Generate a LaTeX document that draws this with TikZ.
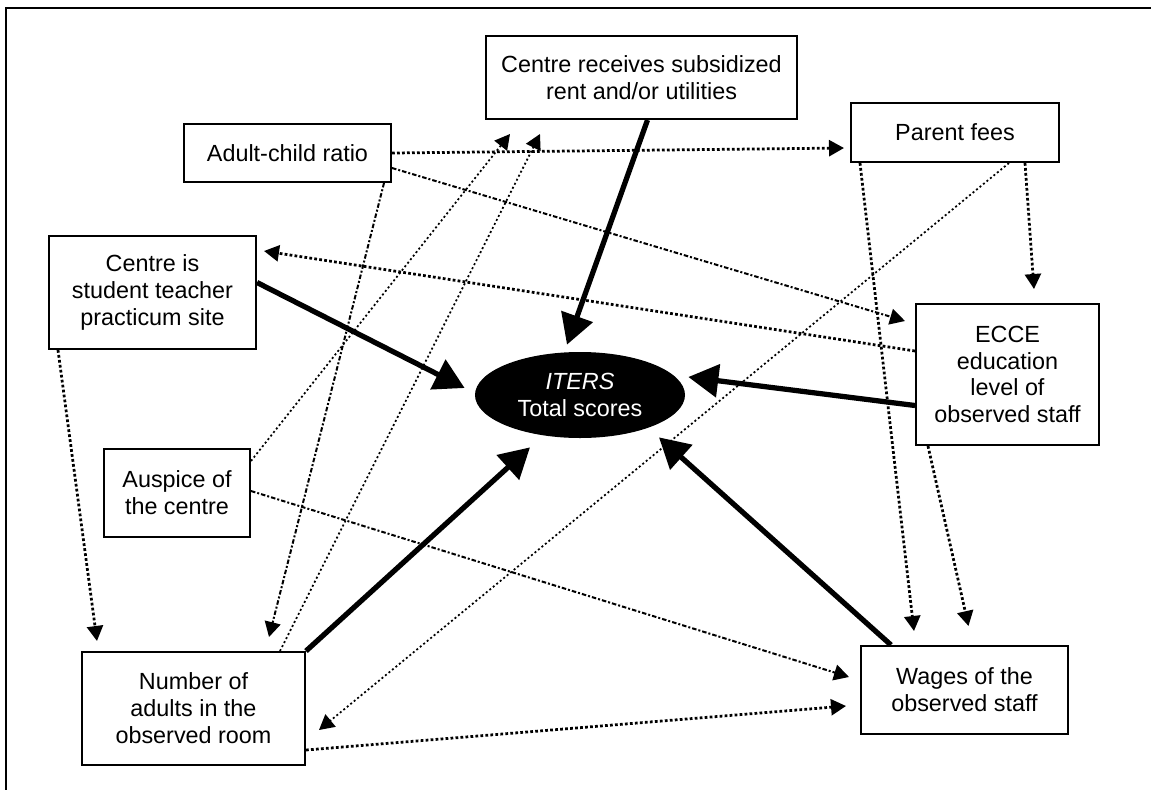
\documentclass[tikz,border=0pt]{standalone}
\usepackage{fontspec}
\setmainfont{Liberation Sans}
\usepackage{tikz}
\usetikzlibrary{calc}
\usetikzlibrary{arrows.meta}
\usetikzlibrary{shapes.geometric}

\tikzset{
    factor/.style={draw, line width=0.4mm, align=center, inner sep=0pt,
        font=\fontsize{13.3pt}{15.3pt}\selectfont},
    score/.style={ellipse, fill=black, text=white, align=center, inner sep=0pt,
        minimum width=42mm, minimum height=17.2mm,
        font=\fontsize{13.3pt}{15.3pt}\selectfont},
    effect/.style={line width=1.05mm, -{Triangle[length=6mm,width=6.5mm]}},
    link/.style={line width=0.55mm, dash pattern=on 0.55mm off 0.45mm,
        -{Triangle[length=3mm,width=3.2mm]}},
    weaklink/.style={line width=0.4mm, dash pattern=on 0.9mm off 0.4mm on 0.4mm off 0.4mm,
        -{Triangle[length=3mm,width=3.2mm]}},
    faintlink/.style={line width=0.35mm, dash pattern=on 0.4mm off 0.5mm,
        -{Triangle[length=3mm,width=3.2mm]}}
}

\begin{document}
\begin{tikzpicture}[x=0.2mm, y=-0.2mm]

    \useasboundingbox (0,0) rectangle (1151,790);

    % frame (only top and left side show)
    \draw[line width=0.4mm] (6,790) -- (6,8) -- (1151,8);

    % the outcome in the middle
    \node (iters) [score] at (580,395) {\textit{ITERS}\\Total scores};

    % the factors round it
    \node (rent) [factor, minimum width=62.2mm, minimum height=16.6mm] at (641.5,77.5)
    {Centre receives subsidized\\rent and/or utilities};
    \node (adult) [factor, minimum width=41.4mm, minimum height=11.6mm] at (287.5,153)
    {Adult-child ratio};
    \node (parent) [factor, minimum width=41.6mm, minimum height=11.8mm] at (955,132.5)
    {Parent fees};
    \node (centre) [factor, minimum width=41.4mm, minimum height=22.6mm] at (152.5,292.5)
    {Centre is\\student teacher\\practicum site};
    \node (ecce) [factor, minimum width=36.6mm, minimum height=28.2mm] at (1007.5,374.5)
    {ECCE\\education\\level of\\observed staff};
    \node (auspice) [factor, minimum width=29.2mm, minimum height=17.6mm] at (177,493)
    {Auspice of\\the centre};
    \node (number) [factor, minimum width=44.6mm, minimum height=22.6mm] at (193.5,708.5)
    {Number of\\adults in the\\observed room};
    \node (wages) [factor, minimum width=41.4mm, minimum height=17.6mm] at (964.5,690)
    {Wages of the\\observed staff};

    % direct effects on the scores
    \begin{scope}[effect]
        \draw ($(rent.south)+(6,0)$) -- ($(iters.north)+(-13,-7)$);
        \draw ($(centre.east)+(0,-10)$) -- ($(iters.west)+(-10,-7)$);
        \draw ($(ecce.west)+(0,31)$) -- ($(iters.east)+(3,-18)$);
        \draw ($(wages.north west)+(31,0)$) -- ($(iters.south)+(79,-1)$);
        \draw (number.north east) -- ($(iters.south)+(-50,9)$);
    \end{scope}

    % links between the factors
    \begin{scope}[link]
        \draw (adult.east) -- ($(parent.west)+(-6,15.5)$);
        \draw ($(ecce.west)+(0,-23.5)$) -- ($(centre.north east)+(7,16)$);
        \draw ($(parent.south west)+(10,0)$) -- ($(wages.north west)+(54,-14)$);
        \draw ($(parent.south east)+(-35,0)$) -- ($(ecce.north)+(26.5,-14)$);
        \draw ($(ecce.south west)+(13,0)$) -- ($(wages.north)+(4,-19)$);
        \draw ($(number.east)+(0,41.5)$) -- ($(wages.west)+(-14,16)$);
        \draw ($(centre.south west)+(10,0)$) -- ($(number.north west)+(16,-10)$);
    \end{scope}

    \begin{scope}[weaklink]
        \draw ($(adult.east)+(0,15)$) -- ($(ecce.north west)+(-10,18)$);
        \draw ($(adult.south east)+(-8,0)$) -- ($(number.north east)+(-37,-14)$);
        \draw ($(auspice.east)+(0,-2)$) -- ($(wages.west)+(-11,-13)$);
    \end{scope}

    \begin{scope}[faintlink]
        \draw ($(parent.south east)+(-51,0)$) -- ($(number.east)+(13,21.5)$);
        \draw ($(auspice.north east)+(0,13)$) -- ($(rent.south west)+(25,14)$);
        \draw ($(number.north east)+(-26,0)$) -- ($(rent.south west)+(55,14)$);
    \end{scope}

\end{tikzpicture}
\end{document}
